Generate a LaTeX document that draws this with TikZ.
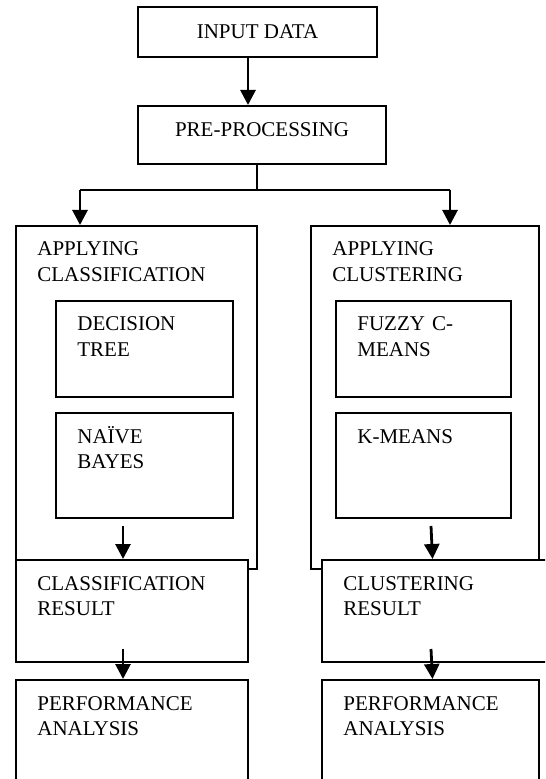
\documentclass[tikz,border=0pt]{standalone}
\usepackage{fontspec}
\setmainfont{Liberation Serif}
\usetikzlibrary{positioning,arrows.meta,calc}
\tikzset{
  box/.style={draw, rectangle, line width=1pt, inner sep=0pt, fill=white},
  txt/.style={anchor=base west, inner sep=0pt, align=left, text width=110pt},
  arr/.style={-{Triangle[length=7.5pt,width=7.5pt]}, line width=1.4pt},
  link/.style={line width=0.6pt},
}

\begin{document}
\begin{tikzpicture}[
  x=0.5pt,y=-0.5pt,
  every node/.style={font=\fontsize{10.5}{12.8}\selectfont}
]
\useasboundingbox (0,0) rectangle (545,779);
\clip (0,0) rectangle (545,779);

% Top boxes
\node[box,minimum width=119.5pt,minimum height=25pt] (input) at (257.5,32) {INPUT DATA};
\node[box,minimum width=124pt,minimum height=29pt,text depth=5pt] (prep) at (262,135) {PRE-PROCESSING};

% Classification side
\node[box,minimum width=120.5pt,minimum height=171.5pt] (clsapp) at (136.5,397.5) {};
\node[box,minimum width=88.5pt,minimum height=48pt] (dtree) at (144.5,349) {};
\node[box,minimum width=88.5pt,minimum height=52.5pt] (nbayes) at (144.5,465.5) {};
\node[box,minimum width=116pt,minimum height=51pt] (clsres) at (132,611) {};
\node[box,minimum width=116pt,minimum height=60pt] (clsperf) at (132,740) {};

% Clustering side
\node[box,minimum width=114pt,minimum height=171.5pt] (clusapp) at (425,397.5) {};
\node[box,minimum width=87.5pt,minimum height=48pt] (fcm) at (423.5,349) {};
\node[box,minimum width=87.5pt,minimum height=52.5pt] (kmeans) at (423.5,465.5) {};
\node[box,minimum width=124pt,minimum height=51pt] (clusres) at (446,611) {};
\node[box,minimum width=108.5pt,minimum height=60pt] (clusperf) at (430.5,740) {};

% Texts
\node[txt] (clsapp-t) at ([shift={(22,31)}]clsapp.north west) {APPLYING\\CLASSIFICATION};
\node[txt] (dtree-t) at ([shift={(22,31)}]dtree.north west) {DECISION\\TREE};
\node[txt] (nbayes-t) at ([shift={(22,31)}]nbayes.north west) {NAÏVE\\BAYES};
\node[txt] (clsres-t) at ([shift={(22,31)}]clsres.north west) {CLASSIFICATION\\RESULT};
\node[txt] (clsperf-t) at ([shift={(22,31)}]clsperf.north west) {PERFORMANCE\\ANALYSIS};
\node[txt] (clusapp-t) at ([shift={(22,31)}]clusapp.north west) {APPLYING\\CLUSTERING};
\node[txt] (fcm-t) at ([shift={(22,31)}]fcm.north west) {FUZZY C-\\MEANS};
\node[txt] (kmeans-t) at ([shift={(22,31)}]kmeans.north west) {K-MEANS};
\node[txt] (clusres-t) at ([shift={(22,31)}]clusres.north west) {CLUSTERING\\RESULT};
\node[txt] (clusperf-t) at ([shift={(22,31)}]clusperf.north west) {PERFORMANCE\\ANALYSIS};

% Split
\coordinate (split) at (257,190);
\coordinate (splitl) at (80,190);
\coordinate (splitr) at (450,190);

% Connectors
\draw[arr] ([shift={(-9.5,0)}]input.south) -- ([shift={(-9.5,0)}]input.south |- prep.north);
\draw[link] (prep.south -| split) -- (split);
\draw[link] (splitl) -- (splitr);
\draw[arr] (splitl) -- (splitl |- clsapp.north);
\draw[arr] (splitr) -- (splitr |- clusapp.north);

\draw[arr] ([shift={(-21.5,7)}]nbayes.south) -- ([shift={(-21.5,0)}]nbayes.south |- clsres.north);
\draw[arr] ([shift={(-9,-14)}]clsres.south) -- ([shift={(-9,0)}]clsperf.north);
\draw[arr] ([shift={(7.5,7)}]kmeans.south) -- ([shift={(9,0)}]kmeans.south |- clusres.north);
\draw[arr] ([shift={(-15,-14)}]clusres.south) -- ([shift={(2,0)}]clusperf.north);

\end{tikzpicture}
\end{document}
